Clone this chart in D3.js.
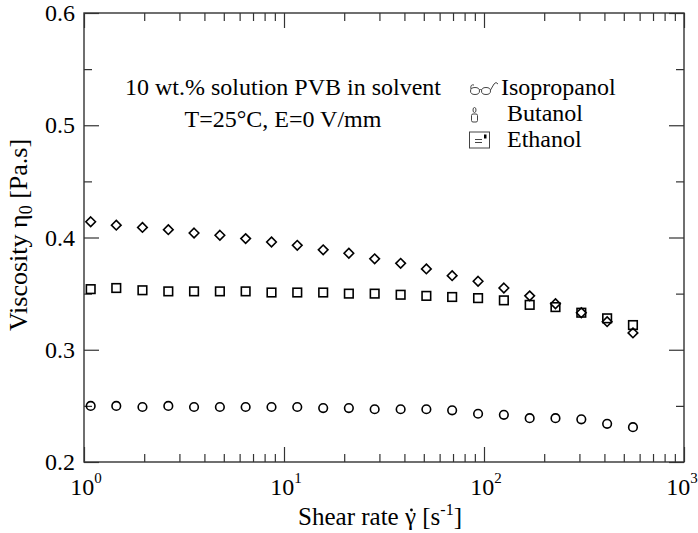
<!DOCTYPE html>
<html>
<head>
<meta charset="utf-8">
<script src="https://cdn.jsdelivr.net/npm/d3@7"></script>
<style>
  body { margin: 0; background: #fff; }
  text { font-family: "Liberation Serif", "Times New Roman", serif; fill: #000; }
</style>
</head>
<body>
<div id="plot"></div>
<script>
// shear rate values (s^-1)
const shearRate = [1.08, 1.45, 1.96, 2.64, 3.55, 4.78, 6.43, 8.66, 11.65, 15.7,
                   21.1, 28.4, 38.3, 51.5, 69.3, 93.4, 125.7, 169.2, 227.7, 306.6,
                   412.7, 555.6];

// viscosity (Pa.s) per solvent
const isopropanol = [0.250, 0.250, 0.249, 0.250, 0.249, 0.249, 0.249, 0.249, 0.249, 0.248,
                     0.248, 0.247, 0.247, 0.247, 0.246, 0.243, 0.242, 0.239, 0.239, 0.238,
                     0.234, 0.231];
const butanol = [0.354, 0.355, 0.353, 0.352, 0.352, 0.352, 0.352, 0.351, 0.351, 0.351,
                 0.350, 0.350, 0.349, 0.348, 0.347, 0.346, 0.344, 0.340, 0.338, 0.333,
                 0.328, 0.322];
const ethanol = [0.414, 0.411, 0.409, 0.407, 0.404, 0.402, 0.399, 0.396, 0.393, 0.389,
                 0.386, 0.381, 0.377, 0.372, 0.366, 0.361, 0.355, 0.348, 0.341, 0.333,
                 0.325, 0.315];

const xMajor = [1, 10, 100, 1000];
const xMinor = [2, 3, 4, 5, 6, 7, 8, 9, 20, 30, 40, 50, 60, 70, 80, 90,
                200, 300, 400, 500, 600, 700, 800, 900];
const yMajor = [0.2, 0.3, 0.4, 0.5, 0.6];
const yMinor = [0.25, 0.35, 0.45, 0.55];

const legendNames = ["Isopropanol", "Butanol", "Ethanol"];
const noteLines = ["10 wt.% solution PVB in solvent", "T=25\u00B0C, E=0 V/mm"];

const W = 698, H = 533;
const margin = { top: 13, right: 14, bottom: 71, left: 84 },
      width = W - margin.left - margin.right,
      height = H - margin.top - margin.bottom;

const svg = d3.select("div#plot")
              .append("svg")
              .attr("width", W)
              .attr("height", H)
            .append("g")
              .attr("transform", `translate(${margin.left},${margin.top})`);

const xScale = d3.scaleLog().domain([1, 1000]).range([0, width]);
const yScale = d3.scaleLinear().domain([0.2, 0.6]).range([height, 0]);

const axisColor = "#333";

// ticks on all four sides, pointing inward
function tickAxis(axisFn, scale, values, size, transform) {
  const g = svg.append("g")
     .attr("transform", transform)
     .call(axisFn(scale).tickValues(values).tickSize(size).tickSizeOuter(0).tickFormat(""));
  g.select(".domain").remove();
  g.selectAll("line").attr("stroke", axisColor).attr("stroke-width", 1.2);
}
tickAxis(d3.axisBottom, xScale, xMajor, -15, `translate(0,${height})`);
tickAxis(d3.axisBottom, xScale, xMinor, -8, `translate(0,${height})`);
tickAxis(d3.axisTop, xScale, xMajor, -15, "translate(0,0)");
tickAxis(d3.axisTop, xScale, xMinor, -8, "translate(0,0)");
tickAxis(d3.axisLeft, yScale, yMajor, -15, "translate(0,0)");
tickAxis(d3.axisLeft, yScale, yMinor, -8, "translate(0,0)");
tickAxis(d3.axisRight, yScale, yMajor, -15, `translate(${width},0)`);
tickAxis(d3.axisRight, yScale, yMinor, -8, `translate(${width},0)`);

// frame
svg.append("rect")
   .attr("width", width)
   .attr("height", height)
   .attr("fill", "none")
   .attr("stroke", axisColor)
   .attr("stroke-width", 1.4);

// y tick labels
svg.selectAll(".ylab")
   .data(yMajor)
   .enter()
   .append("text")
   .attr("class", "ylab")
   .attr("x", -9)
   .attr("y", d => yScale(d))
   .attr("dy", "0.34em")
   .attr("text-anchor", "end")
   .style("font-size", "24px")
   .text(d => d.toFixed(1));

// x tick labels 10^n (last one kept inside the page)
const xl = svg.selectAll(".xlab")
   .data(xMajor)
   .enter()
   .append("text")
   .attr("class", "xlab")
   .attr("x", (d, i) => xScale(d) + (i === xMajor.length - 1 ? -2 : 2))
   .attr("y", height + 33)
   .attr("text-anchor", "middle")
   .style("font-size", "24px");
xl.append("tspan").text("10");
xl.append("tspan")
  .attr("dy", -12)
  .style("font-size", "15px")
  .text(d => Math.round(Math.log10(d)));

// axis titles
const xt = svg.append("text")
   .attr("x", width / 2 - 4)
   .attr("y", 525 - margin.top)
   .attr("text-anchor", "middle")
   .style("font-size", "25px");
xt.append("tspan").text("Shear rate \u03B3 [s");
xt.append("tspan").attr("dy", -10).style("font-size", "16px").text("-1");
xt.append("tspan").attr("dy", 10).text("]");

// dot over gamma
const gBox = xt.node().getExtentOfChar(11);
svg.append("circle")
   .attr("cx", gBox.x + gBox.width / 2 + 1)
   .attr("cy", 510 - margin.top)
   .attr("r", 1.4)
   .attr("fill", "#000");

const yt = svg.append("text")
   .attr("transform", "rotate(-90)")
   .attr("x", -(235 - margin.top))
   .attr("y", -margin.left + 27)
   .attr("text-anchor", "middle")
   .style("font-size", "26px");
yt.append("tspan").text("Viscosity \u03B7");
yt.append("tspan").attr("dy", 5).style("font-size", "18px").text("0");
yt.append("tspan").attr("dy", -5).text(" [Pa.s]");

// annotation
svg.selectAll(".note")
   .data(noteLines)
   .enter()
   .append("text")
   .attr("class", "note")
   .attr("x", 283 - margin.left)
   .attr("y", (d, i) => 95 - margin.top + i * 32)
   .attr("text-anchor", "middle")
   .style("font-size", "24px")
   .text(d => d);

// data markers
const series = [
  { values: isopropanol, shape: "circle" },
  { values: butanol, shape: "square" },
  { values: ethanol, shape: "diamond" }
];

series.forEach(s => {
  const pts = shearRate.map((x, i) => ({ x: x, y: s.values[i] }));
  const g = svg.append("g")
               .attr("fill", "none")
               .attr("stroke", "#000")
               .attr("stroke-width", 1.6);
  if (s.shape === "circle") {
    g.selectAll("circle").data(pts).enter().append("circle")
     .attr("cx", d => xScale(d.x))
     .attr("cy", d => yScale(d.y))
     .attr("r", 4.3);
  } else if (s.shape === "square") {
    g.selectAll("rect").data(pts).enter().append("rect")
     .attr("x", d => xScale(d.x) - 4.3)
     .attr("y", d => yScale(d.y) - 4.3)
     .attr("width", 8.6)
     .attr("height", 8.6);
  } else {
    g.selectAll("path").data(pts).enter().append("path")
     .attr("d", d => {
       const cx = xScale(d.x), cy = yScale(d.y), r = 4.8;
       return `M${cx},${cy - r}L${cx + r},${cy}L${cx},${cy + r}L${cx - r},${cy}Z`;
     });
  }
});

// legend (the original shows font-substituted pictograms instead of markers)
const legend = svg.append("g")
                  .attr("transform", `translate(${-margin.left},${-margin.top})`);

legend.selectAll(".legend-text")
      .data(legendNames)
      .enter()
      .append("text")
      .attr("class", "legend-text")
      .attr("x", (d, i) => i === 0 ? 501 : 507)
      .attr("y", (d, i) => 95 + i * 26)
      .style("font-size", "24px")
      .text(d => d);

// glasses
const gl = legend.append("g").attr("fill", "none").attr("stroke", "#444").attr("stroke-width", 1);
gl.append("ellipse").attr("cx", 475).attr("cy", 91).attr("rx", 4.5).attr("ry", 3.5);
gl.append("ellipse").attr("cx", 486).attr("cy", 91).attr("rx", 4.5).attr("ry", 3.5);
gl.append("path").attr("d", "M471,89 Q470,84 474,85 M479.5,90 Q480.5,88 481.5,90 M490.5,90 L494,84 Q496,81 498,84");

// candle
const cd = legend.append("g").attr("fill", "none").attr("stroke", "#444").attr("stroke-width", 1);
cd.append("rect").attr("x", 471.5).attr("y", 114).attr("width", 6).attr("height", 8).attr("rx", 1.5);
cd.append("ellipse").attr("cx", 474.5).attr("cy", 110).attr("rx", 1.5).attr("ry", 2.5);

// file box
const fb = legend.append("g");
fb.append("rect").attr("x", 469.5).attr("y", 132).attr("width", 20).attr("height", 16)
  .attr("fill", "none").attr("stroke", "#444").attr("stroke-width", 1);
fb.append("path").attr("d", "M475,139.5 H482 M475,142.5 H482")
  .attr("stroke", "#444").attr("stroke-width", 1);
fb.append("rect").attr("x", 484).attr("y", 134.5).attr("width", 2.5).attr("height", 4).attr("fill", "#000");
</script>
</body>
</html>
